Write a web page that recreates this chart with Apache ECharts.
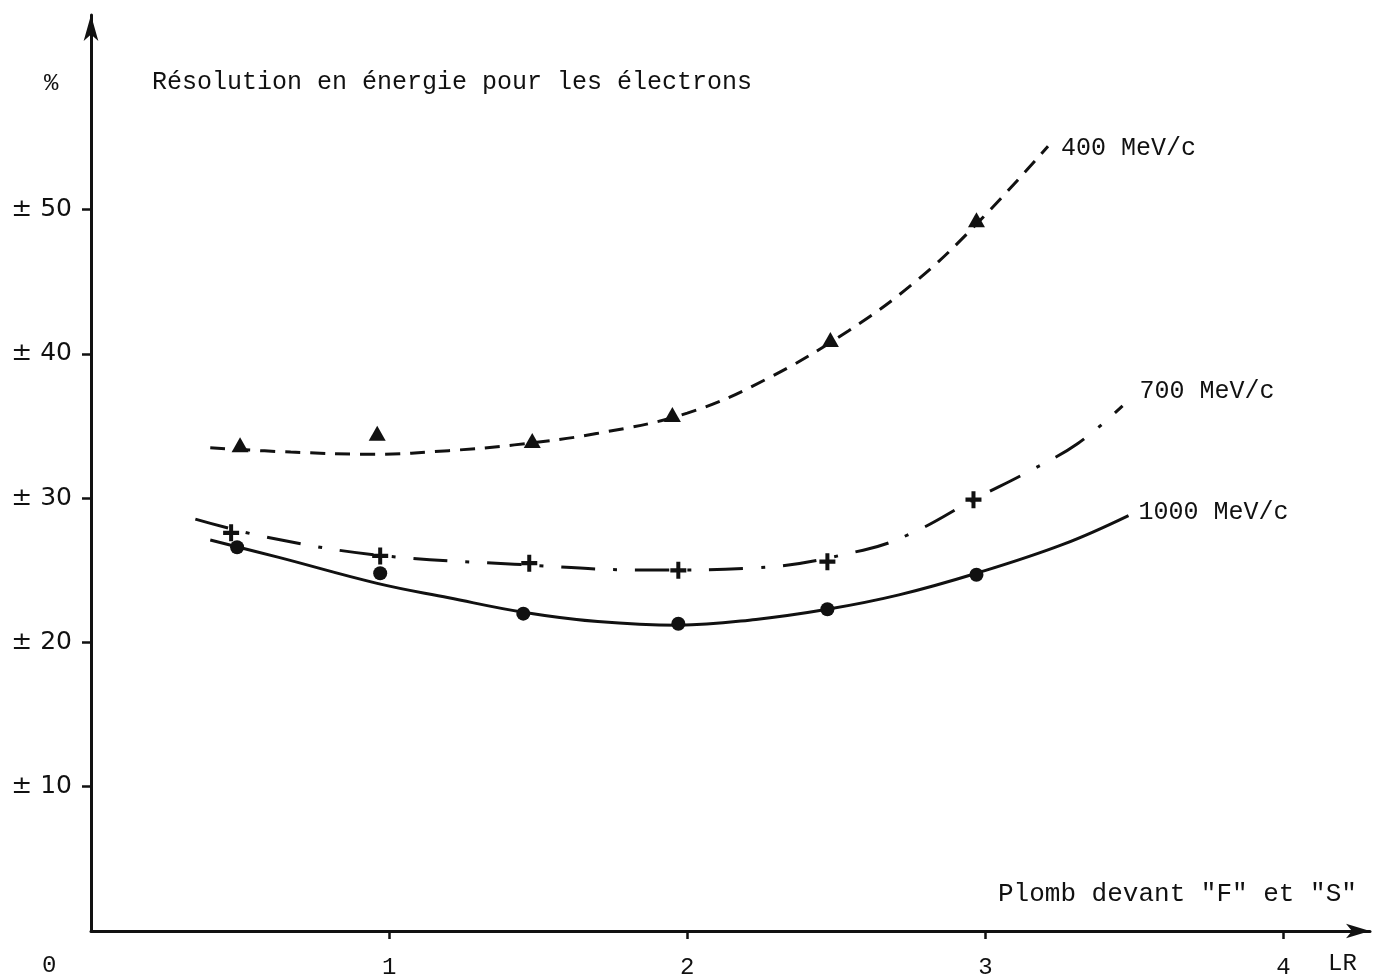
<!DOCTYPE html>
<html>
<head>
<meta charset="utf-8">
<script src="https://cdn.jsdelivr.net/npm/echarts@6/dist/echarts.min.js"></script>
<style>
html,body{margin:0;padding:0;background:#fff;}
#chart{width:1379px;height:978px;}
</style>
</head>
<body>
<div id="chart"></div>
<script>
// ---- data ----
const seriesNames = ['400 MeV/c', '700 MeV/c', '1000 MeV/c'];
const titleText = 'Résolution en énergie pour les électrons';
const xAxisTitle = 'Plomb devant "F" et "S"';
const xUnit = 'LR';
const yUnit = '%';
const xTicks = [1, 2, 3, 4];
const yTicks = [10, 20, 30, 40, 50];

// measured points (x in LR, y in %)
const points400 = [[0.50, 33.7], [0.96, 34.5], [1.48, 34.0], [1.95, 35.8], [2.48, 41.0], [2.97, 49.3]];
const points700 = [[0.47, 27.6], [0.97, 26.0], [1.47, 25.5], [1.97, 25.0], [2.47, 25.6], [2.96, 29.9]];
const points1000 = [[0.49, 26.6], [0.97, 24.8], [1.45, 22.0], [1.97, 21.3], [2.47, 22.3], [2.97, 24.7]];

// hand-drawn fitted curves
const curve400 = [[0.40, 33.5], [0.67, 33.2], [0.95, 33.05], [1.20, 33.3], [1.42, 33.7], [1.70, 34.5], [2.00, 35.9], [2.26, 38.2], [2.54, 41.6], [2.77, 45.1], [2.97, 49.0], [3.21, 54.4]];
const curve700 = [[0.35, 28.55], [0.59, 27.3], [0.96, 26.06], [1.42, 25.43], [1.87, 25.02], [2.22, 25.16], [2.59, 26.4], [2.76, 27.65], [2.96, 29.9], [3.14, 31.8], [3.31, 33.8], [3.46, 36.4]];
const curve1000 = [[0.40, 27.1], [0.63, 25.9], [0.96, 24.1], [1.20, 23.1], [1.45, 22.1], [1.70, 21.45], [1.97, 21.2], [2.23, 21.6], [2.47, 22.3], [2.71, 23.3], [2.97, 24.8], [3.26, 26.8], [3.48, 28.8]];

// ---- chart ----
const chart = echarts.init(document.getElementById('chart'), null, {renderer: 'canvas'});
const INK = '#111';
const MONO = '"Liberation Mono", "DejaVu Sans Mono", monospace';
const SANS = '"DejaVu Sans", sans-serif';
const plusPath = 'path://M6,0H10V6H16V10H10V16H6V10H0V6H6Z';

const GL = 91, GT = 15, GW = 1279, GH = 916;

function curveSeries(name, data, dash, width, labelDist, labelOffset) {
  return {
    type: 'line', name: name, data: data, smooth: 0.4, showSymbol: false, silent: true,
    lineStyle: {color: INK, width: width, type: dash},
    endLabel: {show: true, formatter: '{a}', color: INK, fontFamily: MONO, fontSize: 25,
      distance: labelDist, offset: labelOffset},
    z: 2
  };
}
function pointSeries(name, data, symbol, size) {
  return {
    type: 'scatter', name: name + ' pts', data: data, symbol: symbol, symbolSize: size,
    itemStyle: {color: INK, opacity: 1}, silent: true, z: 3
  };
}

chart.setOption({
  backgroundColor: '#fff',
  animation: false,
  grid: {left: GL, top: GT, width: GW, height: GH, containLabel: false, outerBoundsMode: 'none'},
  xAxis: {
    type: 'value', min: 0, max: 4.29, interval: 1,
    splitLine: {show: false},
    axisLine: {show: true, onZero: false, lineStyle: {color: INK, width: 3},
      symbol: ['none', 'arrow'], symbolSize: [11, 24]},
    axisTick: {show: true, inside: false, length: 8, lineStyle: {color: INK, width: 2.5}, customValues: xTicks},
    axisLabel: {show: true, color: INK, fontFamily: MONO, fontSize: 24, margin: 25, customValues: xTicks}
  },
  yAxis: {
    type: 'value', min: 0, max: 63.5, interval: 10,
    splitLine: {show: false},
    axisLine: {show: true, onZero: false, lineStyle: {color: INK, width: 3},
      symbol: ['none', 'arrow'], symbolSize: [11, 26]},
    axisTick: {show: true, inside: false, length: 9, lineStyle: {color: INK, width: 2.5}, customValues: yTicks},
    axisLabel: {show: true, color: INK, fontFamily: SANS, fontSize: 25, margin: 19, customValues: yTicks,
      formatter: v => '± ' + v}
  },
  graphic: [
    {type: 'text', left: 152, top: 70, style: {text: titleText, fill: INK, font: '25px ' + MONO}},
    {type: 'text', left: 44, top: 72, style: {text: yUnit, fill: INK, font: '24px ' + MONO}},
    {type: 'text', left: 998, top: 881, style: {text: xAxisTitle, fill: INK, font: '26px ' + MONO}},
    {type: 'text', left: 1328, top: 952, style: {text: xUnit, fill: INK, font: '24px ' + MONO}},
    {type: 'text', left: 42, top: 954, style: {text: '0', fill: INK, font: '24px ' + MONO}}
  ],
  series: [
    curveSeries(seriesNames[0], curve400, [15, 10], 3, 13, [0, 2]),
    curveSeries(seriesNames[1], curve700, [34, 18, 4, 18], 3, 17, [0, -15]),
    curveSeries(seriesNames[2], curve1000, 'solid', 3, 10, [0, -3]),
    pointSeries(seriesNames[0], points400, 'triangle', [17, 15]),
    pointSeries(seriesNames[1], points700, plusPath, [16, 17]),
    pointSeries(seriesNames[2], points1000, 'circle', 14)
  ]
});
</script>
</body>
</html>
